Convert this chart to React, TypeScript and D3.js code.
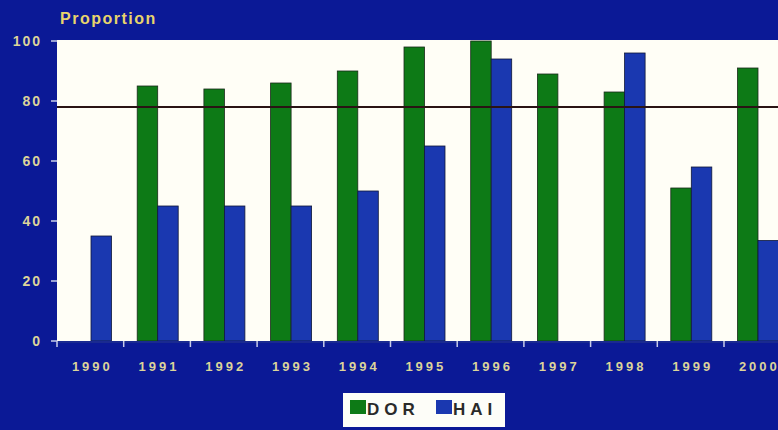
import React from "react";
import * as d3 from "d3";

const years = ["1990", "1991", "1992", "1993", "1994", "1995", "1996", "1997", "1998", "1999", "2000"];
const dorValues = [0, 85, 84, 86, 90, 98, 100, 89, 83, 51, 91];
const haiValues = [35, 45, 45, 45, 50, 65, 94, 0, 96, 58, 33.5];
const yTicks = [0, 20, 40, 60, 80, 100];
const referenceValue = 78;
const seriesNames = ["DOR", "HAI"];

const W = 778;
const H = 430;
const BG = "#0b1996";
const GREEN = "#0d7a16";
const BLUE = "#1a38b0";
const CREAM = "#dcd49a";

export default function App() {
  const left = 57;
  const top = 41;
  const bottom = 341;
  const step = 66.7;
  const x = d3.scaleBand<string>().domain(years).range([left, left + step * years.length]).padding(0);
  const y = d3.scaleLinear().domain([0, 100]).range([bottom, top]);
  const barW = 20.5;
  const gOff = 13.5;
  const bOff = 34;

  return (
    <svg width={W} height={H} style={{ display: "block", position: "absolute", left: 0, top: 0 }}
      fontFamily="'Liberation Sans', Arial, sans-serif">
      <rect x={0} y={0} width={W} height={H} fill={BG} />
      <text x={60} y={24} fill="#e8d46c" fontSize={16} fontWeight={600} letterSpacing={1.5}>Proportion</text>
      <rect x={left} y={top - 1} width={W - left} height={bottom - top + 1} fill="#fffef6" />
      {yTicks.map((t) => (
        <g key={t}>
          <line x1={51} x2={57} y1={y(t)} y2={y(t)} stroke="#c8cce8" strokeWidth={1.5} />
          <text x={42} y={y(t) + 5} textAnchor="end" fill={CREAM} fontSize={14} fontWeight={600} letterSpacing={2}>{t}</text>
        </g>
      ))}
      {years.map((yr, i) => {
        const x0 = x(yr)!;
        return (
          <g key={yr}>
            {dorValues[i] > 0 && (
              <rect x={x0 + gOff} y={y(dorValues[i])} width={barW} height={bottom - y(dorValues[i])}
                fill={GREEN} stroke="#1a2a1a" strokeWidth={0.8} />
            )}
            {haiValues[i] > 0 && (
              <rect x={x0 + bOff} y={y(haiValues[i])} width={barW} height={bottom - y(haiValues[i])}
                fill={BLUE} stroke="#101838" strokeWidth={0.8} />
            )}
          </g>
        );
      })}
      <line x1={left} x2={W} y1={y(referenceValue)} y2={y(referenceValue)} stroke="#2a1414" strokeWidth={2} />
      <line x1={left} x2={W} y1={bottom + 1} y2={bottom + 1} stroke="#1a2a90" strokeWidth={2} />
      {years.map((yr) => (
        <line key={"t" + yr} x1={x(yr)!} x2={x(yr)!} y1={bottom} y2={bottom + 6} stroke="#c8cce8" strokeWidth={1.5} />
      ))}
      {years.map((yr) => (
        <text key={"l" + yr} x={x(yr)! + x.bandwidth() / 2 + 2} y={371} textAnchor="middle" fill={CREAM}
          fontSize={13} fontWeight={600} letterSpacing={3}>{yr}</text>
      ))}
      <rect x={343} y={393} width={162} height={34} fill="#fdfdf8" />
      <rect x={350} y={400} width={16} height={14} fill={GREEN} />
      <text x={367} y={415} fill="#2a2a2a" fontSize={17} fontWeight="bold" letterSpacing={5}>{seriesNames[0]}</text>
      <rect x={436} y={400} width={16} height={14} fill={BLUE} />
      <text x={453} y={415} fill="#2a2a2a" fontSize={17} fontWeight="bold" letterSpacing={5}>{seriesNames[1]}</text>
    </svg>
  );
}
